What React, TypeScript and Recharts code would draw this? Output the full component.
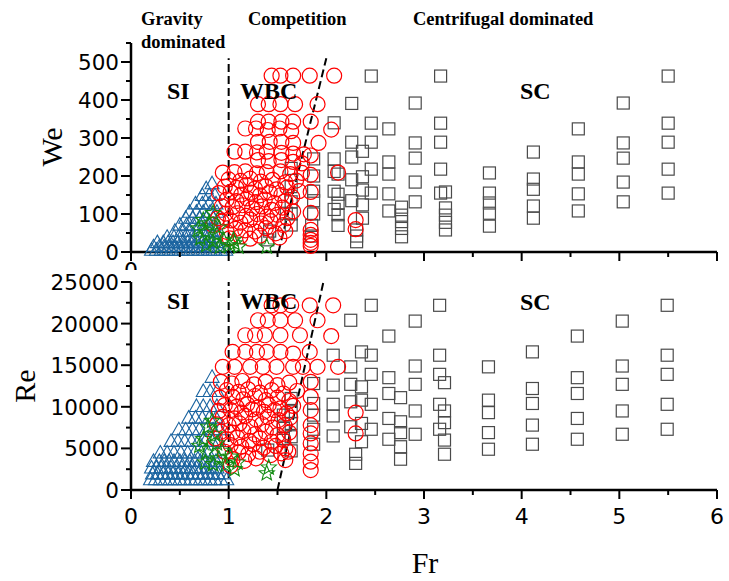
import { ScatterChart, Scatter, XAxis, YAxis, ReferenceLine } from 'recharts'

// Regime map: Fr vs We (top) and Fr vs Re (bottom).
// SI = blue triangles, transition = green stars, WBC = red circles, SC = grey squares.

const FR_TICKS = [0, 0.5, 1, 1.5, 2, 2.5, 3, 3.5, 4, 4.5, 5, 5.5, 6]
const WE_TICKS = [0, 50, 100, 150, 200, 250, 300, 350, 400, 450, 500, 550]
const RE_TICKS = [0, 2500, 5000, 7500, 10000, 12500, 15000, 17500, 20000, 22500, 25000]

type Pt = [number, number]

// ---- top panel (Fr, We) ----
const siWe: Pt[] = [
  [0.21, 6], [0.26, 6], [0.31, 6], [0.36, 6], [0.41, 6], [0.46, 6], [0.51, 6], [0.56, 6], [0.61, 6], [0.66, 6], [0.71, 6], [0.76, 6], [0.81, 6], [0.86, 6], [0.92, 6], [0.97, 6],
  [0.23, 15], [0.29, 15], [0.34, 15], [0.39, 15], [0.44, 15], [0.49, 15], [0.54, 15], [0.59, 15], [0.64, 15], [0.69, 15], [0.74, 15], [0.79, 15], [0.84, 15], [0.9, 15],
  [0.27, 26], [0.33, 26], [0.38, 26], [0.43, 26], [0.48, 26], [0.53, 26], [0.58, 26], [0.63, 26], [0.68, 26], [0.73, 26], [0.78, 26], [0.83, 26], [0.88, 26],
  [0.37, 40], [0.44, 40], [0.51, 40], [0.58, 40], [0.65, 40], [0.72, 40], [0.79, 40], [0.86, 40],
  [0.45, 56], [0.52, 56], [0.59, 56], [0.66, 56], [0.73, 56], [0.8, 56], [0.87, 56],
  [0.5, 72], [0.57, 72], [0.64, 72], [0.71, 72], [0.78, 72], [0.85, 72],
  [0.56, 90], [0.63, 90], [0.7, 90], [0.77, 90], [0.84, 90],
  [0.6, 106], [0.67, 106], [0.74, 106], [0.81, 106], [0.88, 106],
  [0.66, 128], [0.73, 128], [0.8, 128], [0.87, 128],
  [0.73, 150], [0.8, 150], [0.86, 150],
  [0.77, 168], [0.83, 181],
]

const trWe: Pt[] = [
  [0.69, 62], [0.71, 36], [0.76, 53], [0.77, 18], [0.84, 27], [0.84, 102], [0.8, 75], [0.88, 45], [0.91, 14],
  [0.95, 30], [1.01, 18], [1.05, 32], [1.06, 23], [1.1, 14], [1.39, 14], [0.74, 84], [0.9, 64],
]

const wbcWe: Pt[] = [
  [1.44, 464], [1.53, 464], [1.66, 464], [1.83, 464], [2.08, 464],
  [1.3, 389], [1.41, 389], [1.53, 389], [1.68, 389], [1.91, 389],
  [1.3, 343], [1.41, 343], [1.54, 343], [1.66, 343], [1.84, 343],
  [1.17, 325], [1.28, 325], [1.4, 321], [1.52, 325], [1.64, 318], [2.05, 322],
  [1.3, 290], [1.42, 290], [1.54, 290], [1.66, 287], [1.92, 287],
  [1.06, 264], [1.17, 264], [1.29, 262], [1.39, 264], [1.54, 261], [1.66, 259], [1.77, 257], [1.84, 254],
  [1.3, 242], [1.41, 239], [1.54, 242], [1.66, 237], [1.75, 233],
  [0.94, 209], [1.06, 210], [1.17, 212], [1.29, 207], [1.39, 210], [1.53, 212], [1.63, 205], [1.75, 208], [1.84, 203], [2.12, 209],
  [1.0, 191], [1.12, 187], [1.22, 193], [1.33, 185], [1.45, 190], [1.58, 183], [1.69, 188],
  [0.96, 172], [1.08, 169], [1.18, 176], [1.27, 167], [1.38, 173], [1.49, 165], [1.6, 170], [1.72, 160],
  [0.9, 155], [1.02, 158], [1.13, 151], [1.23, 156], [1.32, 149], [1.42, 157], [1.54, 150], [1.65, 145], [1.84, 158],
  [0.98, 138], [1.08, 134], [1.19, 141], [1.28, 131], [1.37, 138], [1.47, 129], [1.58, 134],
  [0.93, 120], [1.04, 118], [1.14, 123], [1.24, 114], [1.34, 120], [1.44, 111], [1.55, 117], [1.66, 107],
  [0.89, 89], [0.97, 101], [1.09, 102], [1.18, 95], [1.29, 100], [1.39, 93], [1.5, 98], [1.6, 89], [1.84, 103],
  [0.84, 71], [0.93, 80], [1.02, 83], [1.12, 77], [1.22, 85], [1.33, 75], [1.43, 81], [1.56, 71],
  [0.98, 53], [1.07, 61], [1.17, 57], [1.27, 54], [1.38, 63], [1.48, 49], [1.58, 55], [1.84, 58],
  [1.01, 36], [1.12, 41], [1.22, 35], [1.32, 43], [1.52, 38], [1.84, 45],
  [1.84, 32], [1.84, 24], [1.84, 16], [2.3, 84], [2.3, 60],
]

const scWe: Pt[] = [
  [2.46, 463], [2.46, 339], [2.46, 289], [2.46, 218], [2.46, 155],
  [2.64, 324], [2.64, 237], [2.64, 205], [2.64, 153], [2.64, 108],
  [2.77, 118], [2.77, 97], [2.77, 80], [2.77, 62], [2.77, 40],
  [2.91, 392], [2.91, 287], [2.91, 247], [2.91, 184], [2.91, 132],
  [3.17, 463], [3.17, 339], [3.17, 289], [3.17, 218], [3.17, 155],
  [3.22, 158], [3.22, 116], [3.22, 97], [3.22, 78], [3.22, 58],
  [3.67, 208], [3.67, 155], [3.67, 129], [3.67, 102], [3.67, 68],
  [4.12, 263], [4.12, 192], [4.12, 165], [4.12, 121], [4.12, 89],
  [4.58, 324], [4.58, 237], [4.58, 205], [4.58, 153], [4.58, 108],
  [5.04, 392], [5.04, 287], [5.04, 247], [5.04, 184], [5.04, 132],
  [5.5, 463], [5.5, 339], [5.5, 289], [5.5, 218], [5.5, 155],
  [2.26, 391], [2.26, 289], [2.26, 250], [2.26, 190], [2.26, 135],
  [2.37, 265], [2.37, 198], [2.37, 163], [2.37, 124], [2.37, 89],
  [2.31, 58], [2.31, 42], [2.31, 27],
  [2.08, 340], [2.08, 245], [2.08, 212], [2.08, 160], [2.08, 112],
  [2.12, 205], [2.12, 152], [2.12, 128], [2.12, 98], [2.12, 70],
  [1.87, 245], [1.87, 200], [1.87, 160], [1.87, 135], [1.87, 100],
  [1.85, 70], [1.85, 42],
  [1.64, 220], [1.64, 172], [1.64, 132], [1.64, 100], [1.64, 71],
  [1.59, 102], [1.4, 32], [1.42, 55],
]

// ---- bottom panel (Fr, Re) ----
const siRe: Pt[] = [
  [0.2, 1300], [0.25, 1300], [0.3, 1300], [0.35, 1300], [0.4, 1300], [0.45, 1300], [0.5, 1300], [0.55, 1300], [0.61, 1300], [0.66, 1300], [0.71, 1300], [0.76, 1300], [0.81, 1300], [0.86, 1300], [0.92, 1300], [0.98, 1300],
  [0.22, 2000], [0.27, 2000], [0.33, 2000], [0.38, 2000], [0.43, 2000], [0.48, 2000], [0.53, 2000], [0.58, 2000], [0.63, 2000], [0.69, 2000], [0.74, 2000], [0.79, 2000], [0.84, 2000], [0.89, 2000], [0.95, 2000],
  [0.21, 2700], [0.26, 2700], [0.31, 2700], [0.36, 2700], [0.41, 2700], [0.46, 2700], [0.52, 2700], [0.57, 2700], [0.62, 2700], [0.67, 2700], [0.72, 2700], [0.78, 2700], [0.83, 2700], [0.88, 2700],
  [0.23, 3500], [0.29, 3500], [0.34, 3500], [0.39, 3500], [0.44, 3500], [0.5, 3500], [0.55, 3500], [0.6, 3500], [0.65, 3500], [0.71, 3500], [0.76, 3500], [0.81, 3500], [0.87, 3500],
  [0.3, 4500], [0.37, 4500], [0.44, 4500], [0.51, 4500], [0.58, 4500], [0.65, 4500], [0.72, 4500], [0.79, 4500], [0.86, 4500],
  [0.41, 5900], [0.48, 5900], [0.55, 5900], [0.62, 5900], [0.69, 5900], [0.76, 5900], [0.83, 5900], [0.9, 5900],
  [0.49, 7300], [0.56, 7300], [0.63, 7300], [0.7, 7300], [0.77, 7300], [0.84, 7300], [0.91, 7300],
  [0.59, 8700], [0.66, 8700], [0.73, 8700], [0.8, 8700], [0.87, 8700],
  [0.67, 10100], [0.74, 10100], [0.81, 10100], [0.88, 10100],
  [0.74, 11900], [0.81, 11900], [0.88, 11900],
  [0.83, 13600],
]

const trRe: Pt[] = [
  [0.83, 8300], [0.79, 7600], [0.74, 6100], [0.7, 5300], [0.77, 4500], [0.88, 5600], [0.76, 3300], [0.84, 3100],
  [0.9, 3800], [0.93, 4700], [0.97, 3000], [1.02, 4000], [1.06, 2500], [1.09, 3300], [1.39, 2000], [1.41, 2700], [0.86, 6700],
]

const wbcRe: Pt[] = [
  [1.44, 22200], [1.53, 22200], [1.64, 22200], [1.83, 22200], [2.07, 22200],
  [1.3, 20400], [1.4, 20400], [1.53, 20400], [1.68, 20400], [1.91, 20400],
  [1.17, 18600], [1.27, 18600], [1.37, 18600], [1.53, 18600], [1.73, 18600], [2.05, 18500],
  [1.04, 16600], [1.17, 16600], [1.29, 16600], [1.39, 16600], [1.53, 16600], [1.66, 16400], [1.83, 16600],
  [0.94, 14800], [1.06, 14800], [1.22, 14800], [1.35, 14800], [1.49, 14800], [1.66, 14800], [1.76, 14800], [1.91, 14800], [2.12, 14800],
  [0.92, 13000], [1.03, 12800], [1.14, 13100], [1.26, 12700], [1.38, 13000], [1.5, 12600], [1.62, 12900], [1.84, 13000],
  [0.98, 12000], [1.1, 11800], [1.2, 12100], [1.32, 11700], [1.44, 12000], [1.56, 11600], [1.7, 11900],
  [0.91, 11100], [1.04, 11200], [1.15, 10900], [1.27, 11300], [1.38, 10800], [1.5, 11100], [1.62, 10700], [1.84, 11200],
  [0.96, 10200], [1.08, 10000], [1.19, 10300], [1.3, 9900], [1.41, 10200], [1.53, 9800], [1.66, 10100],
  [0.9, 9500], [1.02, 9600], [1.13, 9300], [1.24, 9700], [1.36, 9400], [1.47, 9600], [1.59, 9200], [1.84, 9600],
  [0.94, 8800], [1.06, 8600], [1.17, 8900], [1.28, 8500], [1.4, 8800], [1.51, 8400], [1.63, 8700],
  [0.88, 7900], [1.0, 7800], [1.11, 8000], [1.22, 7600], [1.34, 7900], [1.45, 7500], [1.57, 7800], [1.84, 7800],
  [0.92, 7000], [1.04, 6900], [1.15, 7100], [1.27, 6700], [1.38, 7000], [1.5, 6600], [1.62, 6900], [1.84, 6800],
  [0.86, 6200], [0.98, 6100], [1.09, 6300], [1.21, 5900], [1.32, 6200], [1.44, 5800], [1.56, 6000],
  [1.02, 5400], [1.13, 5200], [1.25, 5500], [1.36, 5100], [1.48, 5300], [1.58, 5000], [1.84, 5600],
  [0.96, 4600], [1.1, 4500], [1.2, 4300], [1.32, 4600], [1.43, 4200], [1.54, 4400], [1.61, 4600], [1.84, 4400],
  [1.04, 3700], [1.16, 3500], [1.28, 3800], [1.58, 3600], [1.84, 3400],
  [1.02, 2900], [1.84, 2400],
  [2.3, 9300], [2.3, 6800],
]

const scRe: Pt[] = [
  [2.46, 22200], [2.46, 16200], [2.46, 13900], [2.46, 10300], [2.46, 7300],
  [2.64, 18500], [2.64, 13500], [2.64, 11600], [2.64, 8600], [2.64, 6100],
  [2.76, 11100], [2.76, 8200], [2.76, 6900], [2.76, 5200], [2.76, 3700],
  [2.91, 20300], [2.91, 14900], [2.91, 12700], [2.91, 9500], [2.91, 6700],
  [3.16, 22200], [3.16, 16200], [3.16, 13900], [3.16, 10300], [3.16, 7300],
  [3.21, 12900], [3.21, 9500], [3.21, 8100], [3.21, 6000], [3.21, 4300],
  [3.66, 14800], [3.66, 10800], [3.66, 9300], [3.66, 6900], [3.66, 4900],
  [4.11, 16600], [4.11, 12200], [4.11, 10400], [4.11, 7800], [4.11, 5500],
  [4.57, 18500], [4.57, 13500], [4.57, 11600], [4.57, 8600], [4.57, 6100],
  [5.03, 20300], [5.03, 14900], [5.03, 12700], [5.03, 9500], [5.03, 6700],
  [5.49, 22200], [5.49, 16200], [5.49, 13900], [5.49, 10300], [5.49, 7300],
  [2.25, 20400], [2.25, 14800], [2.25, 12700], [2.25, 10600], [2.25, 7600],
  [2.36, 16600], [2.36, 12400], [2.36, 10800], [2.36, 8000], [2.36, 5800],
  [2.3, 4300], [2.3, 3200],
  [2.07, 16200], [2.07, 12600], [2.07, 10300], [2.07, 8900], [2.07, 6500],
  [1.87, 12800], [1.87, 10400], [1.87, 9000], [1.87, 7300], [1.87, 5500],
  [1.64, 11000], [1.64, 9400], [1.64, 8000], [1.64, 6400], [1.64, 4700],
  [1.56, 9000], [1.56, 7400], [1.56, 6200], [1.4, 4800],
]

const pts = (a: Pt[]) => a.map(([x, y]) => ({ x, y }))

const RED = '#ff0000'
const BLUE = '#1b64a0'
const GREEN = '#128c12'
const GREY = '#4a4a4a'

const Ring = (p: any) => <circle cx={p.cx} cy={p.cy} r={7.5} fill="none" stroke={RED} strokeWidth={1.2} />
const Box = (p: any) => (
  <rect x={p.cx - 6} y={p.cy - 6} width={12} height={12} fill="none" stroke={GREY} strokeWidth={1.2} />
)
const Tri = (p: any) => (
  <path d={`M${p.cx},${p.cy - 7}L${p.cx + 7},${p.cy + 5.5}L${p.cx - 7},${p.cy + 5.5}Z`} fill="none" stroke={BLUE} strokeWidth={1.1} />
)
const Star = (p: any) => {
  let d = ''
  for (let i = 0; i < 10; i++) {
    const r = i % 2 === 0 ? 8 : 3.5
    const a = -Math.PI / 2 + (i * Math.PI) / 5
    d += `${i === 0 ? 'M' : 'L'}${p.cx + r * Math.cos(a)},${p.cy + r * Math.sin(a)}`
  }
  return <path d={d + 'Z'} fill="none" stroke={GREEN} strokeWidth={1.1} />
}

function FrTick({ x, y, payload, showAll }: any) {
  const v = payload.value
  const major = Number.isInteger(v)
  const show = major && (showAll || v === 0)
  return (
    <g>
      <line x1={x} y1={y} x2={x} y2={y + (major ? 9 : 5)} stroke="#000" strokeWidth={2} />
      {show && (
        <text x={x} y={y + (showAll ? 34 : 26)} textAnchor="middle" fontFamily="DejaVu Sans" fontSize={22} fill="#000">
          {v}
        </text>
      )}
    </g>
  )
}

function ValTick({ x, y, payload, step }: any) {
  const v = payload.value
  const major = v % step === 0
  return (
    <g>
      <line x1={x} y1={y} x2={x - (major ? 10 : 5)} y2={y} stroke="#000" strokeWidth={2} />
      {major && (
        <text x={x - 12} y={y + 8} textAnchor="end" fontFamily="DejaVu Sans" fontSize={21.5} fill="#000">
          {v}
        </text>
      )}
    </g>
  )
}

const axisLine = { stroke: '#000', strokeWidth: 2.5 }
const dash = { stroke: '#000', strokeWidth: 2, strokeDasharray: '8 4', ifOverflow: 'visible' as const }

export default function App() {
  const bold = { fontFamily: 'Liberation Serif', fontWeight: 700, fill: '#000' }
  return (
    <div style={{ position: 'absolute', left: 0, top: 0, width: 729, height: 581, background: '#fff', overflow: 'hidden' }}>
      <div style={{ position: 'absolute', left: 0, top: 0 }}>
        <ScatterChart width={729} height={290} margin={{ top: 43, right: 12, bottom: 8, left: 71 }}>
          <XAxis type="number" dataKey="x" domain={[0, 6]} ticks={FR_TICKS} interval={0} height={30}
            tickSize={0} tickMargin={0} tickLine={false} axisLine={axisLine} tick={<FrTick showAll={false} />} />
          <YAxis type="number" dataKey="y" domain={[0, 550]} ticks={WE_TICKS} interval={0} width={60}
            tickSize={0} tickMargin={0} tickLine={false} axisLine={axisLine} tick={<ValTick step={100} />} />
          <Scatter data={pts(scWe)} shape={Box} isAnimationActive={false} />
          <Scatter data={pts(siWe)} shape={Tri} isAnimationActive={false} />
          <Scatter data={pts(wbcWe)} shape={Ring} isAnimationActive={false} />
          <Scatter data={pts(trWe)} shape={Star} isAnimationActive={false} />
          <ReferenceLine segment={[{ x: 1, y: 0 }, { x: 1, y: 510 }]} {...dash} />
          <ReferenceLine segment={[{ x: 1.51, y: 0 }, { x: 2.0, y: 510 }]} {...dash} />
        </ScatterChart>
      </div>
      <div style={{ position: 'absolute', left: 0, top: 270, background: '#fff' }}>
        <ScatterChart width={729} height={311} margin={{ top: 12, right: 12, bottom: 51, left: 71 }}>
          <XAxis type="number" dataKey="x" domain={[0, 6]} ticks={FR_TICKS} interval={0} height={40}
            tickSize={0} tickMargin={0} tickLine={false} axisLine={axisLine} tick={<FrTick showAll />} />
          <YAxis type="number" dataKey="y" domain={[0, 25000]} ticks={RE_TICKS} interval={0} width={60}
            tickSize={0} tickMargin={0} tickLine={false} axisLine={axisLine} tick={<ValTick step={5000} />} />
          <Scatter data={pts(scRe)} shape={Box} isAnimationActive={false} />
          <Scatter data={pts(siRe)} shape={Tri} isAnimationActive={false} />
          <Scatter data={pts(wbcRe)} shape={Ring} isAnimationActive={false} />
          <Scatter data={pts(trRe)} shape={Star} isAnimationActive={false} />
          <ReferenceLine segment={[{ x: 1, y: 0 }, { x: 1, y: 25000 }]} {...dash} />
          <ReferenceLine segment={[{ x: 1.5, y: 0 }, { x: 1.97, y: 25000 }]} {...dash} />
        </ScatterChart>
      </div>
      <svg width={729} height={581} style={{ position: 'absolute', left: 0, top: 0, pointerEvents: 'none' }}>
        <text x={141} y={25} fontSize={18.5} {...bold}>Gravity</text>
        <text x={141} y={48} fontSize={18.5} {...bold}>dominated</text>
        <text x={248} y={25} fontSize={18.5} {...bold}>Competition</text>
        <text x={413} y={25} fontSize={18.5} {...bold}>Centrifugal dominated</text>
        <text x={167} y={99} fontSize={24} {...bold}>SI</text>
        <text x={240} y={99} fontSize={24} {...bold}>WBC</text>
        <text x={520} y={99} fontSize={24} {...bold}>SC</text>
        <text x={167} y={309} fontSize={24} {...bold}>SI</text>
        <text x={240} y={309} fontSize={24} {...bold}>WBC</text>
        <text x={520} y={310} fontSize={24} {...bold}>SC</text>
        <text transform="translate(62,147) rotate(-90)" textAnchor="middle" fontFamily="Liberation Serif" fontSize={30} fill="#000">We</text>
        <text transform="translate(35,386) rotate(-90)" textAnchor="middle" fontFamily="Liberation Serif" fontSize={30} fill="#000">Re</text>
        <text x={425} y={573} textAnchor="middle" fontFamily="Liberation Serif" fontSize={30} fill="#000">Fr</text>
      </svg>
    </div>
  )
}
